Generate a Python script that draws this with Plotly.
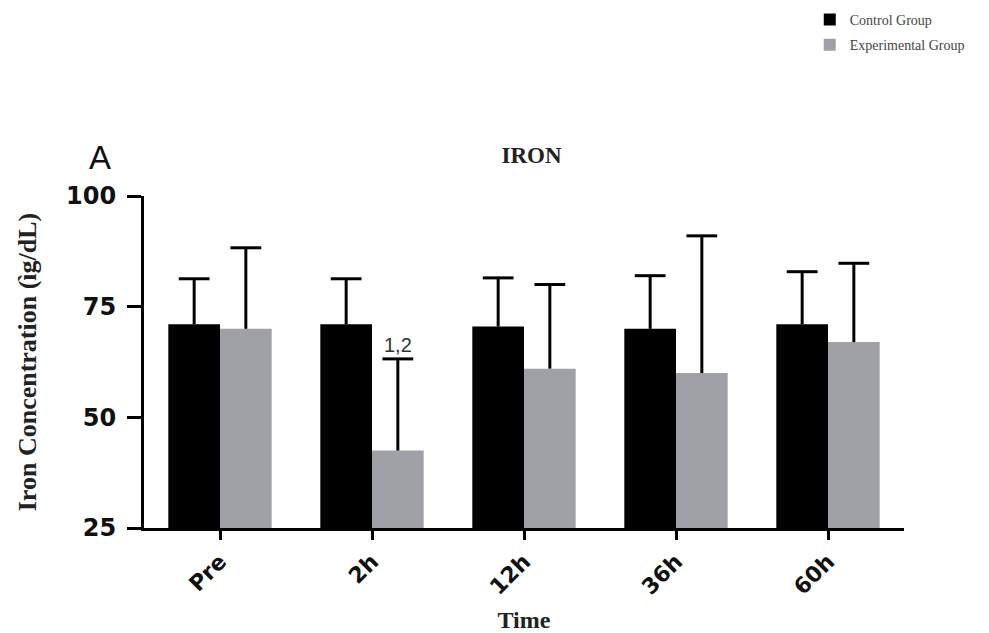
import numpy as np
import plotly.graph_objects as go

# Serum iron by sampling time
times = ["Pre", "2h", "12h", "36h", "60h"]
control_mean = [71.0, 71.0, 70.5, 70.0, 71.0]
control_sd = [10.3, 10.3, 11.0, 12.0, 11.9]
experimental_mean = [70.0, 42.5, 61.0, 60.0, 67.0]
experimental_sd = [18.3, 20.7, 19.0, 31.0, 17.8]

sig_label = "1,2"
sig_index = 1

BLACK = "#000000"
GRAY = "#a0a0a7"
BAR_W = 0.34

idx = np.arange(len(times))
x_ctrl = idx - BAR_W / 2
x_exp = idx + BAR_W / 2
ctrl_top = np.array(control_mean) + np.array(control_sd)
exp_top = np.array(experimental_mean) + np.array(experimental_sd)

fig = go.Figure()
fig.add_trace(go.Bar(x=x_ctrl, y=control_mean, width=BAR_W, name="Control Group",
                     marker=dict(color=BLACK, line=dict(width=0)), legendgroup="c"))
fig.add_trace(go.Bar(x=x_exp, y=experimental_mean, width=BAR_W, name="Experimental Group",
                     marker=dict(color=GRAY, line=dict(width=0)), legendgroup="e"))

# upper-only SD whiskers: stem runs from the mean up to mean+SD, capped at the top
for xs, top, sd in ((x_ctrl, ctrl_top, control_sd), (x_exp, exp_top, experimental_sd)):
    fig.add_trace(go.Scatter(
        x=xs, y=top, mode="markers", showlegend=False, hoverinfo="skip",
        marker=dict(symbol="line-ew-open", size=22, color=BLACK,
                    line=dict(width=3, color=BLACK)),
        error_y=dict(type="data", array=[0] * len(sd), arrayminus=sd, symmetric=False,
                     color=BLACK, thickness=3, width=0),
    ))

# significance marker above the experimental bar at 2h
fig.add_annotation(
    x=x_exp[sig_index], y=exp_top[sig_index], xref="x", yref="y",
    text=sig_label, showarrow=False, yshift=1, yanchor="bottom",
    font=dict(family="Liberation Sans, Arial", size=20, color="#333333"),
)

# panel letter
fig.add_annotation(
    x=-0.058, y=1.117, xref="paper", yref="paper", text="A", showarrow=False,
    xanchor="center", yanchor="middle",
    font=dict(family="Liberation Sans, Arial", size=33, color="#111111"),
)

fig.update_layout(
    width=989, height=633,
    margin=dict(l=144, r=85, t=196, b=105),
    paper_bgcolor="white", plot_bgcolor="white",
    barmode="overlay",
    title=dict(text="<b>IRON</b>", x=0.51, xref="paper", y=1 - 155 / 633,
               yref="container", xanchor="center", yanchor="middle",
               font=dict(family="Liberation Serif, Times New Roman", size=23, color="#222222")),
    legend=dict(x=0.876, xref="paper", y=0.9937, yref="container",
                xanchor="left", yanchor="top",
                font=dict(family="Liberation Serif, Times New Roman", size=14, color="#444444"),
                tracegroupgap=4, bgcolor="rgba(0,0,0,0)"),
    showlegend=True,
)

fig.update_yaxes(
    range=[25, 100], tickvals=[25, 50, 75, 100],
    showline=True, linecolor=BLACK, linewidth=3,
    ticks="outside", ticklen=14, tickwidth=2.5, tickcolor=BLACK,
    ticklabelstandoff=6,
    showgrid=False, zeroline=False,
    tickfont=dict(family="DejaVu Sans", size=24, color="#111111", weight="bold"),
    title=dict(text="Iron Concentration (ìg/dL)", standoff=22,
               font=dict(family="Liberation Serif, Times New Roman", size=26,
                         color="#222222", weight="bold")),
)
fig.update_xaxes(
    range=[-0.5, len(times) - 0.5], tickvals=idx, ticktext=times,
    showline=True, linecolor=BLACK, linewidth=3,
    ticks="outside", ticklen=9, tickwidth=2.5, tickcolor=BLACK,
    showgrid=False, zeroline=False, tickangle=-45, automargin=False,
    tickfont=dict(family="DejaVu Sans", size=22, color="#111111", weight="bold"),
    title=dict(text="Time", standoff=16,
               font=dict(family="Liberation Serif, Times New Roman", size=24,
                         color="#222222", weight="bold")),
)

fig.write_html("out.html")
